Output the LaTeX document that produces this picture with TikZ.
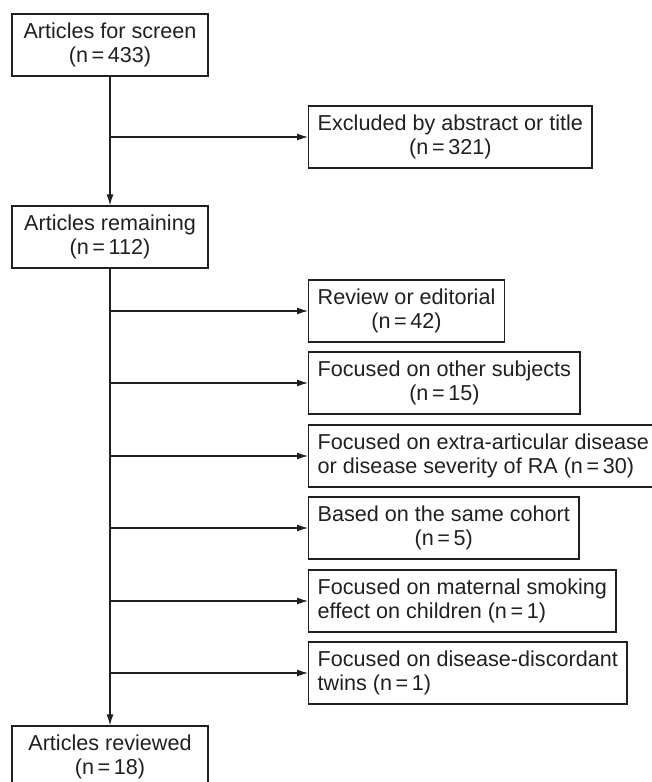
\documentclass[tikz,border=0pt]{standalone}
\usepackage{fontspec}
\setmainfont{Liberation Sans}
\usetikzlibrary{arrows.meta}
\definecolor{ink}{HTML}{231F20}
\begin{document}
\begin{tikzpicture}[x=1pt,y=1pt,
  box/.style={draw=ink, text=ink, line width=1.4pt, minimum height=62pt,
    inner xsep=9pt, font=\fontsize{21.6}{24.5}\selectfont},
  stage/.style={box, align=center, minimum width=196pt},
  drop/.style={box, anchor=west},
  link/.style={draw=ink, line width=1.1pt},
  arr/.style={link, -{Latex[length=11pt,width=7pt]}}]
\useasboundingbox (0,0) rectangle (652,782);

\node[stage] (screen) at (110,737) {Articles for screen\\(n\,=\,433)};
\node[stage] (remain) at (110,545) {Articles remaining\\(n\,=\,112)};
\node[stage] (reviewed) at (110,25) {Articles reviewed\\(n\,=\,18)};

\node[drop, align=center] (excl) at (308,645) {Excluded by abstract or title\\(n\,=\,321)};

\node[drop, align=center] (review) at (308,471) {Review or editorial\\(n\,=\,42)};
\node[drop, align=center] (other) at (308,399) {Focused on other subjects\\(n\,=\,15)};
\node[drop, align=left] (extra) at (308,326) {Focused on extra-articular disease\\or disease severity of RA (n\,=\,30)};
\node[drop, align=center] (cohort) at (308,254) {Based on the same cohort\\(n\,=\,5)};
\node[drop, align=left] (smoke) at (308,181) {Focused on maternal smoking\\effect on children (n\,=\,1)};
\node[drop, align=left] (twins) at (308,109) {Focused on disease-discordant\\twins (n\,=\,1)};

\draw[arr] (screen) -- (remain);
\draw[arr] (remain) -- (reviewed);

\draw[arr] (screen.south |- excl.west) -- (excl.west);
\foreach \b in {review,other,extra,cohort,smoke,twins}
  \draw[arr] (remain.south |- \b.west) -- (\b.west);
\end{tikzpicture}
\end{document}
